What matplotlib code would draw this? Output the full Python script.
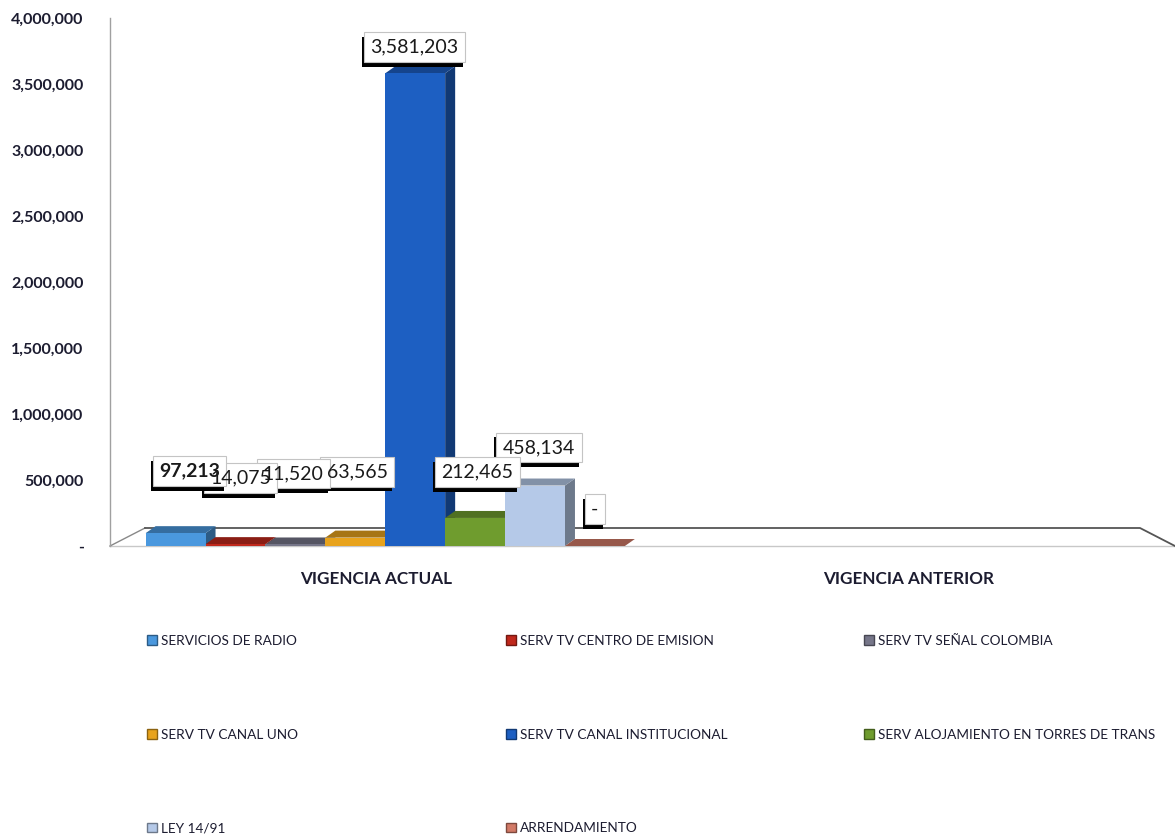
import numpy as np
import matplotlib
matplotlib.use('Agg')
import matplotlib.pyplot as plt
import matplotlib.patheffects as pe
from matplotlib.patches import Patch, Polygon
from matplotlib.colors import to_rgb

# data
categories = ['VIGENCIA ACTUAL', 'VIGENCIA ANTERIOR']
series_names = ['SERVICIOS DE RADIO', 'SERV TV CENTRO DE EMISION', 'SERV TV SEÑAL COLOMBIA',
                'SERV TV CANAL UNO', 'SERV TV CANAL INSTITUCIONAL',
                'SERV ALOJAMIENTO EN TORRES DE TRANS', 'LEY 14/91', 'ARRENDAMIENTO']
vigencia_actual = [97213, 14075, 11520, 63565, 3581203, 212465, 458134, 0]
vigencia_anterior = [np.nan, np.nan, np.nan, np.nan, np.nan, np.nan, np.nan, np.nan]
y_ticks = [0, 500000, 1000000, 1500000, 2000000, 2500000, 3000000, 3500000, 4000000]

colors = ['#4a98de', '#c0281c', '#767689', '#e8a31c', '#1d5fc2', '#6f9c2e', '#b5c9e8', '#d27a67']
# label offsets in pixels (dx, height above bar top), as Excel placed them
label_off = [(14, 62), (5, 66), (-2, 71), (2, 66), (-1, 26), (2, 46), (4, 38), (0, 37)]

plt.rcParams['font.family'] = ['Lato', 'DejaVu Sans']

W, H, DPI = 1175, 836, 100
fig = plt.figure(figsize=(W / DPI, H / DPI), dpi=DPI)
ax = fig.add_axes([110 / W, 1 - 546 / H, 1065 / W, (546 - 18) / H])
ax.set_xlim(-0.5, 1.5)
ax.set_ylim(0, 4000000)

# pixel -> data units
px_x = 2.0 / 1065
px_y = 4000000 / 528.0


def shade(c, f):
    r, g, b = to_rgb(c)
    return (r * f, g * f, b * f)


group_w = 0.9
bar_w = group_w / len(series_names)
shift = 9 * px_x
ddx, ddy = 10 * px_x, 7 * px_y

values = np.array([vigencia_actual, vigencia_anterior])
for i, name in enumerate(series_names):
    for c in range(len(categories)):
        v = values[c, i]
        if np.isnan(v):
            continue
        x0 = c + shift + (i - len(series_names) / 2) * bar_w
        x1 = x0 + bar_w
        z = 3 + i * 0.1
        side = Polygon([(x1, 0), (x1 + ddx, ddy), (x1 + ddx, v + ddy), (x1, v)],
                       closed=True, facecolor=shade(colors[i], 0.6), edgecolor='none', zorder=z)
        top = Polygon([(x0, v), (x1, v), (x1 + ddx, v + ddy), (x0 + ddx, v + ddy)],
                      closed=True, facecolor=shade(colors[i], 0.72), edgecolor='none', zorder=z)
        ax.add_patch(side)
        ax.add_patch(top)
        ax.bar(x0, v, width=bar_w, align='edge', color=colors[i], edgecolor='none', zorder=z + 0.01)

        if c == 0:
            dx, dy = label_off[i]
            txt = '-' if v == 0 else f'{v:,.0f}'
            lx, ly = x0 + bar_w / 2 + dx * px_x, v + dy * px_y
            kw = dict(ha='center', va='center', fontsize=14,
                      fontweight='bold' if i == 0 else 'normal')
            # box (with shadow) below every label text, like Excel draws them
            b = ax.text(lx, ly, txt, color='none', zorder=20 - i * 0.1,
                        bbox=dict(boxstyle='square,pad=0.33', facecolor='white',
                                  edgecolor='#c4c4c4', lw=0.8), **kw)
            b.get_bbox_patch().set_path_effects([
                pe.SimplePatchShadow(offset=(-1.5, -3.5), shadow_rgbFace='black', alpha=1.0),
                pe.Normal()])
            ax.text(lx, ly, txt, color='#1a1a1a', zorder=25, **kw)

# fake 3D floor
fdx, fdy = 35 / 1065, 18 / 528
ax.plot([0, 1], [0, 0], transform=ax.transAxes, color='#c8c8c8', lw=1, clip_on=False, zorder=1)
ax.plot([0, fdx], [0, fdy], transform=ax.transAxes, color='#888888', lw=1, clip_on=False, zorder=1)
ax.plot([fdx, 1 - fdx, 1], [fdy, fdy, 0], transform=ax.transAxes, color='#555555', lw=1.3,
        clip_on=False, zorder=1)

for s in ['top', 'right', 'bottom']:
    ax.spines[s].set_visible(False)
ax.spines['left'].set_color('#a0a0a0')
ax.spines['left'].set_linewidth(1)

ax.set_yticks(y_ticks)
ax.set_yticklabels(['-' if v == 0 else f'{v:,}' for v in y_ticks], fontweight='bold',
                   fontsize=11.5, color='#1c1c30')
ax.tick_params(axis='y', length=0, pad=19)
ax.set_xticks(range(len(categories)))
ax.set_xticklabels(categories, fontweight='bold', fontsize=12.3, color='#1c1c30')
ax.tick_params(axis='x', length=0, pad=18)

# legend: three columns laid out row by row
handles = [Patch(facecolor=c, edgecolor=shade(c, 0.6), lw=1) for c in colors]
col_x = [147, 506, 864]
for col in range(3):
    idx = list(range(col, len(series_names), 3))
    fig.legend([handles[k] for k in idx], [series_names[k] for k in idx],
               loc='upper left', bbox_to_anchor=(col_x[col] / W, 1 - 635 / H),
               frameon=False, fontsize=9.8, handlelength=0.7, handleheight=0.7,
               handletextpad=0.35, labelspacing=6.0, borderpad=0, borderaxespad=0,
               labelcolor='#1c1c30')

fig.savefig('out.png', dpi=DPI)
